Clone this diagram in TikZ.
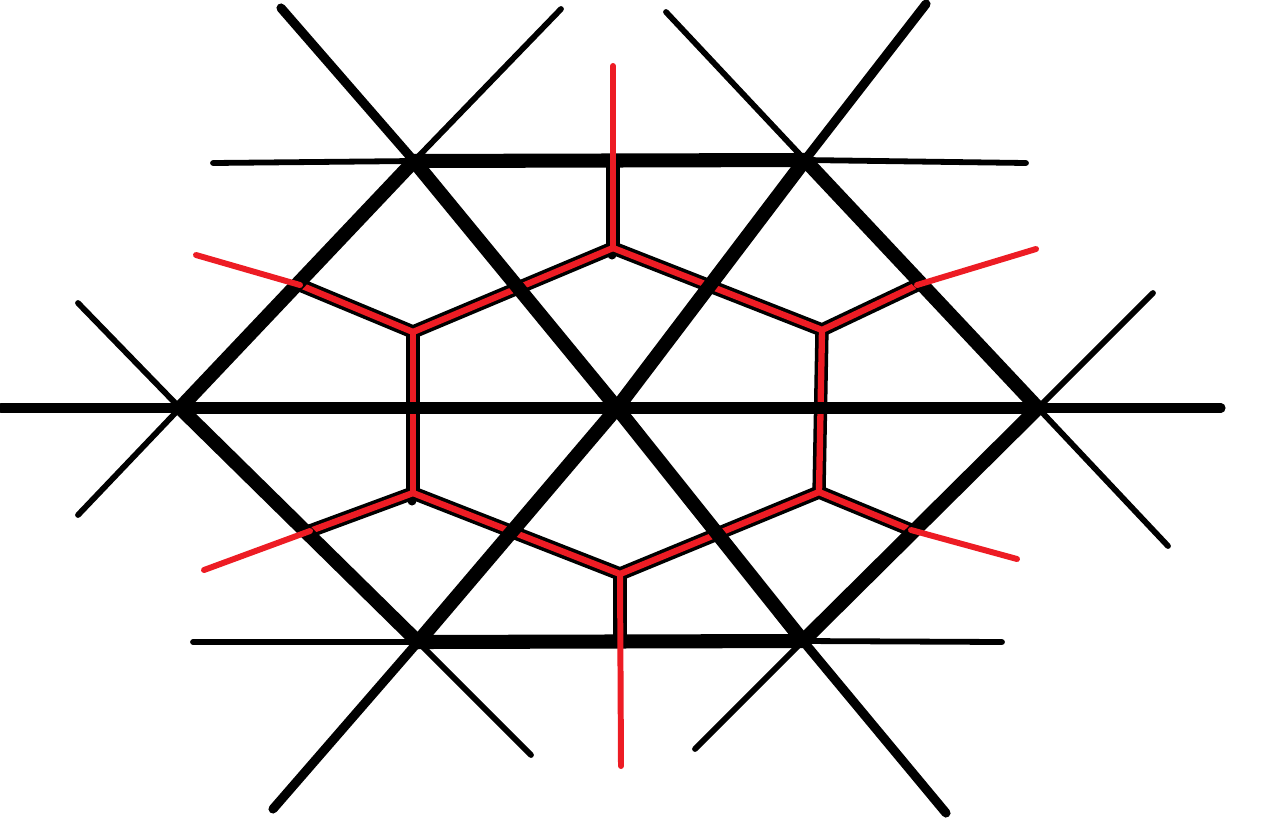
\documentclass[tikz,border=0pt]{standalone}
\definecolor{vred}{RGB}{237,28,36}
\tikzset{
  del/.style={line width=8pt, line cap=round, black},
  delh/.style={line width=6.6pt, line cap=round, black},
  ext/.style={line width=5.2pt, line cap=round, black},
  thin/.style={line width=3.3pt, line cap=round, black},
  vout/.style={line width=7.6pt, line cap=round, line join=round, black},
  vin/.style={line width=3.6pt, line cap=round, line join=round, vred},
  vray/.style={line width=3.4pt, line cap=round, vred},
}
\begin{document}
\begin{tikzpicture}[x=0.02cm,y=-0.02cm]
\useasboundingbox (0,0) rectangle (1268,836);
% Delaunay vertices
\coordinate (A) at (414,161);
\coordinate (B) at (805,160);
\coordinate (L) at (180,408);
\coordinate (C) at (617,408);
\coordinate (R) at (1038,408);
\coordinate (D) at (418,642);
\coordinate (E) at (803,641);
% outer ends
\coordinate (Aext) at (281,8);
\coordinate (Athin) at (561,9);
\coordinate (Ahor) at (213,163);
\coordinate (Bthin) at (666,12);
\coordinate (Bext) at (926,4);
\coordinate (Bhor) at (1026,163);
\coordinate (Lup) at (78,303);
\coordinate (Ldn) at (78,515);
\coordinate (Lhor) at (1,408);
\coordinate (Rup) at (1153,293);
\coordinate (Rdn) at (1168,546);
\coordinate (Rhor) at (1221,408);
\coordinate (Dhor) at (193,642);
\coordinate (Dext) at (273,809);
\coordinate (Dthin) at (531,755);
\coordinate (Ehor) at (1002,642);
\coordinate (Ethin) at (695,749);
\coordinate (Eext) at (946,813);
% Voronoi vertices
\coordinate (V1) at (613,248);
\coordinate (V2) at (413,332);
\coordinate (V3) at (822,330);
\coordinate (V4) at (413,493);
\coordinate (V5) at (819,492);
\coordinate (V6) at (620,574);
% crossings of Voronoi rays with hull
\coordinate (X1) at (613,163);
\coordinate (X2) at (300,285);
\coordinate (X3) at (917,285);
\coordinate (X4) at (310,531);
\coordinate (X5) at (911,530);
\coordinate (X6) at (620,641);
% ray ends
\coordinate (T1) at (613,66);
\coordinate (T2) at (196,255);
\coordinate (T3) at (1036,249);
\coordinate (T4) at (204,570);
\coordinate (T5) at (1017,559);
\coordinate (T6) at (621,766);

% Voronoi outline + red
\draw[vout] (X2) -- (V2) -- (V1) -- (V3) -- (X3);
\draw[vout] (X4) -- (V4) -- (V6) -- (V5) -- (X5);
\draw[vout] (V2) -- (V4);
\draw[vout] (V3) -- (V5);
\draw[vout] (V1) -- (X1);
\draw[vout] (V6) -- (X6);
\fill[black] (612,255) circle (4.5);
\fill[black] (412,501) circle (4.5);
\draw[vin] (X2) -- (V2) -- (V1) -- (V3) -- (X3);
\draw[vin] (X4) -- (V4) -- (V6) -- (V5) -- (X5);
\draw[vin] (V2) -- (V4);
\draw[vin] (V3) -- (V5);

% thin rays
\draw[thin] (A) -- (Athin);
\draw[thin] (A) -- (Ahor);
\draw[thin] (B) -- (Bthin);
\draw[thin] (B) -- (Bhor);
\draw[thin] (L) -- (Lup);
\draw[thin] (L) -- (Ldn);
\draw[thin] (R) -- (Rup);
\draw[thin] (R) -- (Rdn);
\draw[thin] (D) -- (Dhor);
\draw[thin] (D) -- (Dthin);
\draw[thin] (E) -- (Ehor);
\draw[thin] (E) -- (Ethin);
% medium extensions
\draw[ext] (A) -- (Aext);
\draw[ext] (B) -- (Bext);
\draw[ext] (D) -- (Dext);
\draw[ext] (E) -- (Eext);
\draw[ext] (L) -- (Lhor);
\draw[ext] (R) -- (Rhor);
% Delaunay edges
\draw[delh] (L) -- (C) -- (R);
\draw[del] (A) -- (B);
\draw[del] (D) -- (E);
\draw[del] (A) -- (L) -- (D);
\draw[del] (B) -- (R) -- (E);
\draw[del] (A) -- (C) -- (E);
\draw[del] (B) -- (C) -- (D);

% red rays
\draw[vray] (V1) -- (T1);
\draw[vray] (V6) -- (T6);
\draw[vray] (X2) -- (T2);
\draw[vray] (X3) -- (T3);
\draw[vray] (X4) -- (T4);
\draw[vray] (X5) -- (T5);
\end{tikzpicture}
\end{document}
